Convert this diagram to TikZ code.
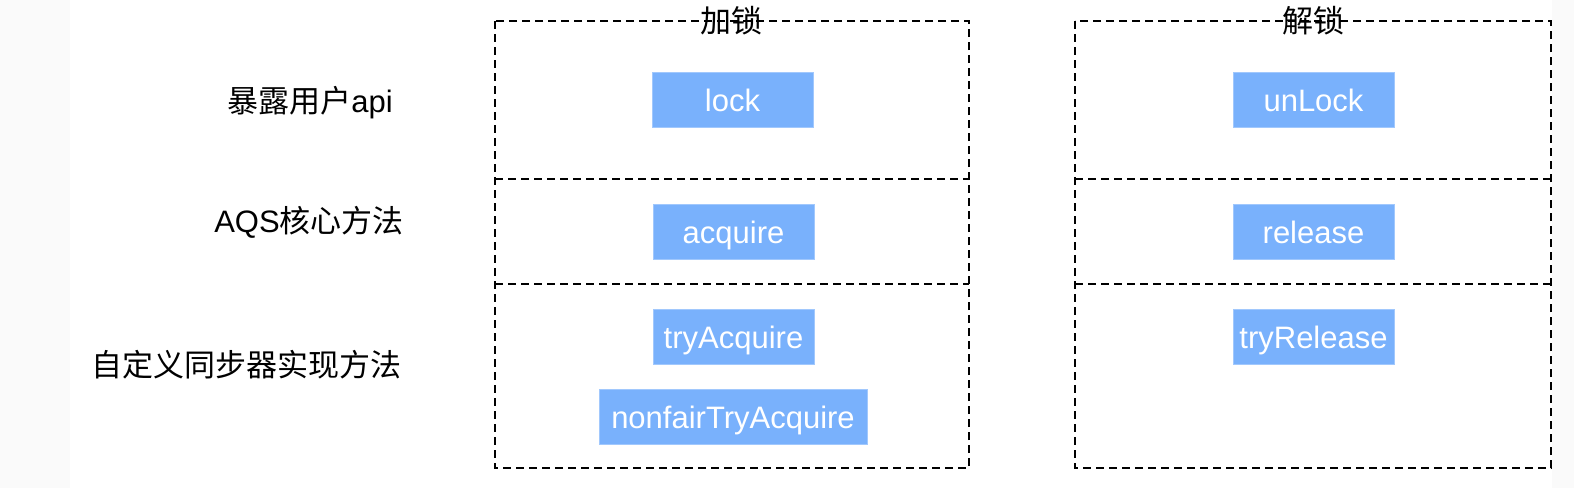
\documentclass[tikz,border=0pt]{standalone}
\usepackage{fontspec}
\setmainfont{Liberation Sans}
\newfontfamily\cjk{Noto Sans CJK SC}
\definecolor{boxblue}{HTML}{79B1FC}
\definecolor{edgegray}{HTML}{FAFAFA}
\begin{document}
\begin{tikzpicture}[x=1pt,y=-1pt,
  frame/.style={draw=black,line width=1.6pt,dash pattern=on 8pt off 5pt},
  method/.style={fill=boxblue,draw=boxblue!70!white,line width=0.8pt,text=white,inner xsep=0pt,inner ysep=0pt,text height=23pt,text depth=0pt,minimum height=55pt,font=\fontsize{31}{31}\selectfont},
  rowlabel/.style={font=\fontsize{31}{31}\selectfont,inner sep=0pt},
  toplabel/.style={font=\fontsize{31}{31}\selectfont\cjk,inner sep=0pt}]
\useasboundingbox (0,0) rectangle (1574,488);
\fill[edgegray] (0,0) rectangle (1574,488);
\fill[white] (70,0) rectangle (1552,488);
% frames
\draw[frame] (495,21) rectangle (969,468);
\draw[frame] (495,179) -- (969,179);
\draw[frame] (495,284) -- (969,284);
\draw[frame] (1075,21) rectangle (1551,468);
\draw[frame] (1075,179) -- (1551,179);
\draw[frame] (1075,284) -- (1551,284);
% top labels
\node[toplabel] (lockt) at (731,21) {加锁};
\node[toplabel] (unlockt) at (1313,21) {解锁};
% row labels
\node[rowlabel] (r1) at (310,103) {{\cjk 暴露用户}api};
\node[rowlabel] (r2) at (309,222) {AQS{\cjk 核心方法}};
\node[rowlabel] (r3) at (246,365) {\cjk 自定义同步器实现方法};
% methods
\node[method,minimum width=161pt] (lock) at (732.5,100) {lock};
\node[method,minimum width=161pt] (acq) at (733.5,231.5) {acquire};
\node[method,minimum width=161pt] (tacq) at (733.5,337) {tryAcquire};
\node[method,minimum width=268pt] (ntacq) at (733,416.5) {nonfairTryAcquire};
\node[method,minimum width=161pt] (unlock) at (1313.5,100) {unLock};
\node[method,minimum width=161pt] (rel) at (1313.5,231.5) {release};
\node[method,minimum width=161pt] (trel) at (1313.5,337) {tryRelease};
\end{tikzpicture}
\end{document}
